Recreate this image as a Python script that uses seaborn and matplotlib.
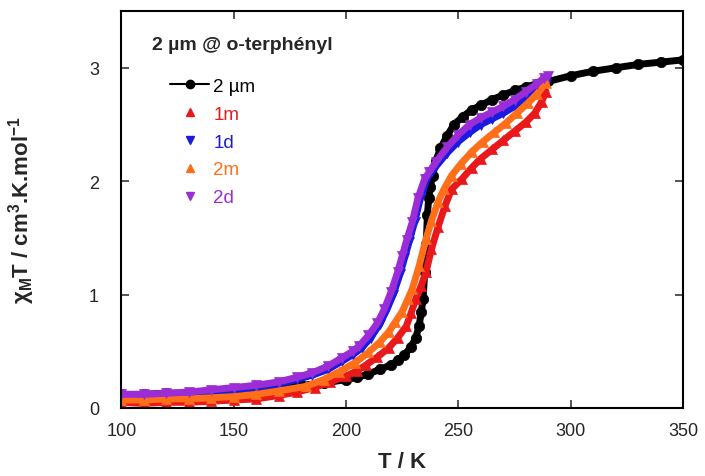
import numpy as np
import matplotlib
matplotlib.use("Agg")
import matplotlib.pyplot as plt
from matplotlib.lines import Line2D
import seaborn as sns
import pandas as pd

# 2 um reference sample (black)
t_ref = [100, 110, 120, 130, 140, 150, 160, 170, 180, 190, 200, 205, 210, 215,
         220, 223, 226, 229, 231, 232.5, 233.5, 234.3, 235, 235.7, 236.2, 236.8,
         237.5, 238.5, 240, 242, 245, 248, 252, 256, 260, 265, 270, 275, 280,
         285, 290, 300, 310, 320, 330, 340, 350]
x_ref = [0.12, 0.12, 0.13, 0.13, 0.14, 0.15, 0.16, 0.18, 0.20, 0.22, 0.25, 0.27,
         0.30, 0.34, 0.38, 0.42, 0.47, 0.54, 0.62, 0.72, 0.85, 0.96, 1.20, 1.45,
         1.70, 1.85, 1.95, 2.05, 2.18, 2.29, 2.40, 2.50, 2.57, 2.63, 2.67, 2.72,
         2.76, 2.80, 2.83, 2.86, 2.88, 2.93, 2.97, 3.00, 3.03, 3.05, 3.07]

# 1m (red)
t_1m = [100, 110, 120, 130, 140, 150, 160, 170, 178, 186, 193, 200, 205, 209,
        214, 219, 223, 226.8, 229, 231, 233.5, 235.6, 238, 241, 244, 247, 251.6,
        256, 260, 265, 270, 275, 280, 284, 287, 289]
x_1m = [0.05, 0.04, 0.05, 0.05, 0.06, 0.07, 0.08, 0.11, 0.14, 0.18, 0.23, 0.28,
        0.33, 0.38, 0.45, 0.53, 0.62, 0.72, 0.84, 0.96, 1.08, 1.20, 1.40, 1.60,
        1.78, 1.93, 2.02, 2.12, 2.20, 2.28, 2.36, 2.44, 2.52, 2.60, 2.70, 2.79]

# 1d (blue)
t_1d = [100, 110, 120, 130, 140, 150, 160, 170, 178, 185, 192, 198, 203, 207,
        211, 215, 218, 221, 224, 226, 228, 230.5, 233, 236, 238, 240, 245, 250,
        255, 260, 265, 270, 275, 280, 285, 289]
x_1d = [0.10, 0.10, 0.11, 0.12, 0.14, 0.16, 0.18, 0.21, 0.25, 0.29, 0.34, 0.41,
        0.47, 0.53, 0.62, 0.74, 0.86, 1.00, 1.18, 1.32, 1.46, 1.64, 1.84, 2.02,
        2.08, 2.13, 2.25, 2.35, 2.43, 2.50, 2.55, 2.60, 2.66, 2.73, 2.80, 2.86]

# 2m (orange)
t_2m = [100, 110, 120, 130, 140, 150, 160, 170, 182, 190, 197, 204, 210, 215,
        219, 222, 225, 227.5, 229.5, 232.5, 235.6, 238, 241, 243.6, 247, 251,
        256, 261, 266, 271, 276, 281, 285, 289]
x_2m = [0.07, 0.07, 0.08, 0.08, 0.09, 0.10, 0.12, 0.15, 0.19, 0.25, 0.32, 0.40,
        0.49, 0.58, 0.67, 0.76, 0.85, 0.96, 1.05, 1.25, 1.49, 1.65, 1.82, 1.93,
        2.05, 2.15, 2.26, 2.35, 2.43, 2.51, 2.60, 2.69, 2.77, 2.87]

# 2d (purple)
t_2d = [100, 110, 120, 130, 140, 150, 160, 170, 178, 185, 192, 198, 203, 206,
        210, 214, 217, 220, 223, 225, 227, 229.5, 232, 235, 237, 240, 245, 250,
        255, 260, 265, 270, 275, 280, 285, 288, 290]
x_2d = [0.12, 0.12, 0.13, 0.14, 0.16, 0.18, 0.20, 0.23, 0.27, 0.31, 0.37, 0.44,
        0.50, 0.55, 0.64, 0.75, 0.87, 1.02, 1.20, 1.34, 1.48, 1.64, 1.85, 2.02,
        2.08, 2.17, 2.30, 2.41, 2.50, 2.56, 2.61, 2.66, 2.72, 2.79, 2.86, 2.91, 2.93]

labels = ["2 µm", "1m", "1d", "2m", "2d"]
colors = ["black", "#E8181B", "#1A1AE0", "#FF6E18", "#9B2CD6"]
markers = ["o", "^", "v", "^", "v"]
series = [(t_ref, x_ref), (t_1m, x_1m), (t_1d, x_1d), (t_2m, x_2m), (t_2d, x_2d)]

sns.set_style("ticks")
plt.rcParams["font.family"] = ["Liberation Sans", "DejaVu Sans"]
plt.rcParams["mathtext.fontset"] = "custom"
plt.rcParams["mathtext.rm"] = "Liberation Sans:bold"
plt.rcParams["mathtext.default"] = "rm"

fig = plt.figure(figsize=(7.05, 4.77), dpi=100)
ax = fig.add_axes([0.172, 0.1426, 0.797, 0.832])

for (t, v), lab, c, m in zip(series, labels, colors, markers):
    df = pd.DataFrame({"T": t, "chi": v})
    sns.lineplot(
        data=df, x="T", y="chi", ax=ax, sort=False, legend=False,
        color=c, lw=5, marker=m, markersize=7.5, markeredgewidth=0.5,
        markeredgecolor=c
    )

ax.set_xlim(100, 350)
ax.set_ylim(0, 3.5)
ax.set_xticks(np.arange(100, 351, 50))
ax.set_yticks([0, 1, 2, 3])
ax.tick_params(direction="in", top=True, right=True, length=5.5, width=1.1,
               labelsize=13)
ax.tick_params(axis="x", pad=10)
ax.tick_params(axis="y", pad=16)
for sp in ax.spines.values():
    sp.set_linewidth(1.5)
    sp.set_color("black")

ax.set_xlabel("T / K", fontsize=16, fontweight="bold", labelpad=9)
ax.set_ylabel(r"χ$_{M}$T / cm$^{3}$.K.mol$^{-1}$", fontsize=16, fontweight="bold")
ax.yaxis.set_label_coords(-0.15, 0.5)

handles = [Line2D([], [], color="black", lw=1.5, marker="o", markersize=6)]
for c, m in zip(colors[1:], markers[1:]):
    handles.append(Line2D([], [], color=c, lw=0, marker=m, markersize=6))
leg = ax.legend(handles, labels, loc="upper left", bbox_to_anchor=(0.087, 0.832),
                frameon=False, fontsize=13.5, labelcolor=colors,
                handlelength=2.08, handletextpad=0.22, labelspacing=0.57,
                borderpad=0, borderaxespad=0)

ax.text(0.055, 0.917, "2 µm @ o-terphényl", transform=ax.transAxes,
        fontsize=14, fontweight="bold", va="center", ha="left")

fig.savefig("out.png", dpi=100)
